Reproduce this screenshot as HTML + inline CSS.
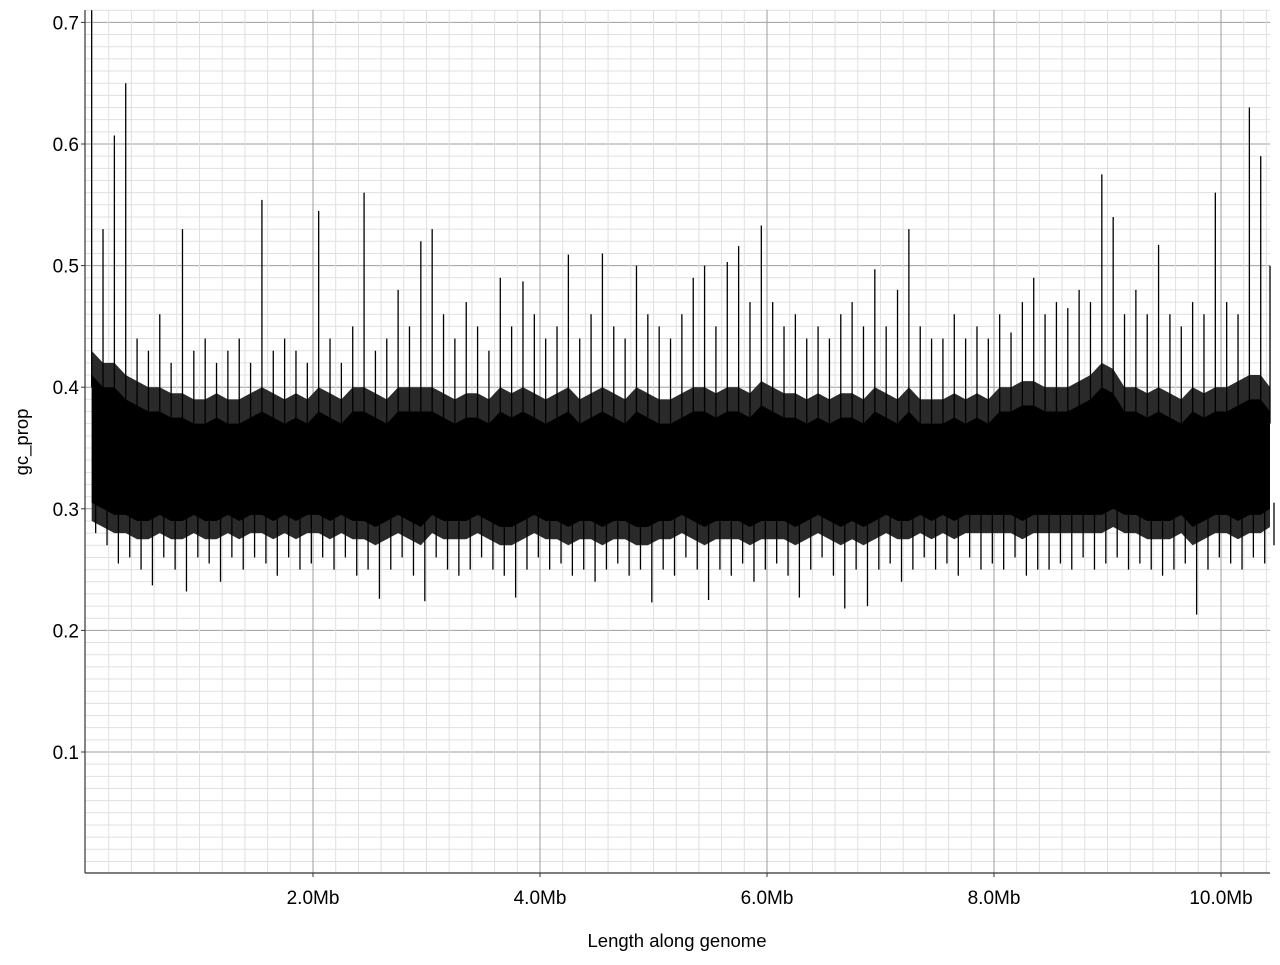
<!DOCTYPE html>
<html><head><meta charset="utf-8"><style>
html,body{margin:0;padding:0;background:#fff;}
svg text{font-family:"Liberation Sans",Arial,sans-serif;fill:#000;}
</style></head><body>
<svg id="chart" width="1280" height="960" viewBox="0 0 1280 960" xmlns="http://www.w3.org/2000/svg">
<g id="grid"></g>
<g id="marks"></g>
<g id="axes"></g>
<text x="677" y="947" font-size="18.5" text-anchor="middle">Length along genome</text>
<text x="0" y="0" font-size="18.5" text-anchor="middle" transform="translate(28,442) rotate(-90)">gc_prop</text>
</svg>
<script>
const binSizeMb = 0.1;
const peak = [0.71,0.53,0.607,0.65,0.44,0.43,0.46,0.42,0.53,0.43,
0.44,0.42,0.43,0.44,0.42,0.554,0.43,0.44,0.43,0.42,
0.545,0.44,0.42,0.45,0.56,0.43,0.44,0.48,0.45,0.52,
0.53,0.46,0.44,0.47,0.45,0.43,0.49,0.45,0.487,0.46,
0.44,0.45,0.509,0.44,0.46,0.51,0.45,0.44,0.50,0.46,
0.45,0.44,0.46,0.49,0.50,0.45,0.503,0.516,0.47,0.533,
0.47,0.45,0.46,0.44,0.45,0.44,0.46,0.47,0.45,0.497,
0.45,0.48,0.53,0.45,0.44,0.44,0.46,0.44,0.45,0.44,
0.46,0.445,0.47,0.49,0.46,0.47,0.465,0.48,0.47,0.575,
0.54,0.46,0.48,0.46,0.517,0.46,0.45,0.47,0.46,0.56,
0.47,0.46,0.63,0.59,0.50];
const trough = [0.28,0.27,0.255,0.26,0.25,0.237,0.26,0.25,0.232,0.26,
0.255,0.24,0.26,0.25,0.26,0.255,0.245,0.26,0.25,0.255,
0.26,0.25,0.26,0.245,0.25,0.226,0.25,0.26,0.245,0.224,
0.26,0.25,0.245,0.25,0.26,0.25,0.245,0.227,0.25,0.26,
0.25,0.255,0.245,0.25,0.24,0.25,0.255,0.245,0.25,0.223,
0.25,0.245,0.26,0.25,0.225,0.25,0.245,0.255,0.24,0.25,
0.255,0.245,0.227,0.25,0.26,0.245,0.218,0.25,0.22,0.25,
0.255,0.24,0.25,0.26,0.25,0.255,0.245,0.26,0.25,0.255,
0.25,0.26,0.245,0.25,0.25,0.255,0.25,0.26,0.25,0.255,
0.26,0.25,0.255,0.25,0.245,0.25,0.255,0.213,0.25,0.26,
0.255,0.25,0.26,0.255,0.27];
const upper = [0.43,0.42,0.42,0.41,0.405,0.40,0.40,0.395,0.395,0.39,
0.39,0.395,0.39,0.39,0.395,0.40,0.395,0.39,0.395,0.39,
0.40,0.395,0.39,0.40,0.40,0.395,0.39,0.40,0.40,0.40,
0.40,0.395,0.39,0.395,0.395,0.39,0.40,0.395,0.40,0.395,
0.39,0.395,0.40,0.39,0.395,0.40,0.395,0.39,0.40,0.395,
0.39,0.39,0.395,0.40,0.40,0.395,0.40,0.40,0.395,0.405,
0.40,0.395,0.395,0.39,0.395,0.39,0.395,0.395,0.39,0.40,
0.395,0.39,0.40,0.39,0.39,0.39,0.395,0.39,0.395,0.39,
0.40,0.40,0.405,0.405,0.40,0.40,0.40,0.405,0.41,0.42,
0.415,0.40,0.40,0.395,0.40,0.395,0.39,0.40,0.395,0.40,
0.40,0.405,0.41,0.41,0.40];
const lower = [0.29,0.285,0.28,0.28,0.275,0.275,0.28,0.275,0.275,0.28,
0.275,0.275,0.28,0.275,0.28,0.28,0.275,0.28,0.275,0.28,
0.28,0.275,0.28,0.275,0.275,0.27,0.275,0.28,0.275,0.27,
0.28,0.275,0.275,0.275,0.28,0.275,0.27,0.27,0.275,0.28,
0.275,0.275,0.27,0.275,0.275,0.27,0.275,0.275,0.27,0.27,
0.275,0.275,0.28,0.275,0.27,0.275,0.275,0.275,0.27,0.275,
0.275,0.275,0.27,0.275,0.28,0.275,0.27,0.275,0.27,0.275,
0.28,0.275,0.275,0.28,0.275,0.28,0.275,0.28,0.28,0.28,
0.28,0.28,0.275,0.28,0.28,0.28,0.28,0.28,0.28,0.28,
0.285,0.28,0.28,0.275,0.275,0.275,0.28,0.27,0.275,0.28,
0.28,0.275,0.28,0.28,0.285];
const yTicks = [0.1,0.2,0.3,0.4,0.5,0.6,0.7];
const yTickLabels = ["0.1","0.2","0.3","0.4","0.5","0.6","0.7"];
const xTicks = [2,4,6,8,10];
const xTickLabels = ["2.0Mb","4.0Mb","6.0Mb","8.0Mb","10.0Mb"];

const L=85,R=1270,T=10,B=873;
const xScale = mb => 86 + mb*113.5;
const yScale = v => 752 - (v-0.1)*1216;
const NS="http://www.w3.org/2000/svg";
function mk(tag, attrs, parent){const e=document.createElementNS(NS,tag);for(const k in attrs)e.setAttribute(k,attrs[k]);parent.appendChild(e);return e;}

const grid=document.getElementById('grid');
for(let i=1;i<=71;i++){const v=i/100;const y=yScale(v);if(y<T)continue;
  const ln=mk('line',{x1:L,x2:R,y1:y,y2:y,stroke:(i%10===0)?'#9e9e9e':'#e0e0e0','stroke-width':1},grid);
  
  }
for(let i=1;i<=52;i++){const mb=i*0.2;const x=xScale(mb);if(x>R)break;
  const ln=mk('line',{x1:x,x2:x,y1:T,y2:B,stroke:(i%10===0)?'#9e9e9e':'#e0e0e0','stroke-width':1},grid);
  
  }

const marks=document.getElementById('marks');
const n=peak.length;
const bx=i=>Math.min(R,xScale((i+0.5)*binSizeMb));
let pts=[];
for(let i=0;i<n;i++)pts.push(bx(i)+','+yScale(upper[i]));
for(let i=n-1;i>=0;i--)pts.push(bx(i)+','+yScale(lower[i]));
const fr=mk('polygon',{points:pts.join(' '),fill:'#2a2a2a'},marks);


pts=[];
for(let i=0;i<n;i++)pts.push(bx(i)+','+yScale(upper[i]-0.02));
for(let i=n-1;i>=0;i--)pts.push(bx(i)+','+yScale(lower[i]+0.015));
const core=mk('polygon',{points:pts.join(' '),fill:'#000'},marks);


for(let i=0;i<n;i++){const x=bx(i);
  const p=mk('line',{x1:x,x2:x,y1:yScale(peak[i]),y2:yScale(upper[i]-0.03),stroke:'#000','stroke-width':1.3},marks);
  
  
  const t=mk('line',{x1:x+4,x2:x+4,y1:yScale(trough[i]),y2:yScale(lower[i]+0.02),stroke:'#000','stroke-width':1.3},marks);
  
  }

const axes=document.getElementById('axes');
const ya=mk('line',{x1:L,x2:L,y1:T,y2:B,stroke:'#333','stroke-width':1.2},axes);


const xa=mk('line',{x1:L,x2:R,y1:B,y2:B,stroke:'#333','stroke-width':1.2},axes);


yTicks.forEach((v,i)=>{const y=yScale(v);
  const tk=mk('line',{x1:L-4,x2:L,y1:y,y2:y,stroke:'#333'},axes);
  
  
  const tx=mk('text',{x:L-6,y:y+7,'font-size':19,'text-anchor':'end'},axes);tx.textContent=yTickLabels[i];
  
  });
xTicks.forEach((v,i)=>{const x=xScale(v);
  const tk=mk('line',{x1:x,x2:x,y1:B,y2:B+4,stroke:'#333'},axes);
  
  
  const tx=mk('text',{x:x,y:B+31,'font-size':19,'text-anchor':'middle'},axes);tx.textContent=xTickLabels[i];
  
  });
</script>
</body></html>
